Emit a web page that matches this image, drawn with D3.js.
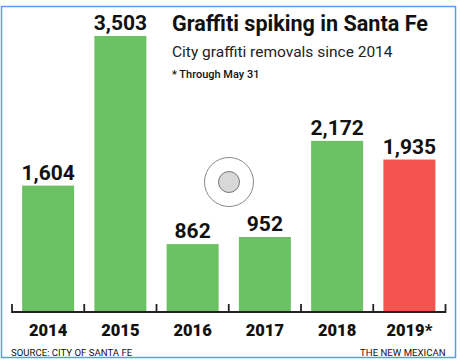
<!DOCTYPE html>
<html><head><meta charset="utf-8">
<script src="https://cdn.jsdelivr.net/npm/d3@7"></script>
<style>body{margin:0;background:#fff}svg{display:block}</style>
</head><body>
<svg id="c" width="460" height="364"></svg>
<script>
const years = ["2014","2015","2016","2017","2018","2019*"];
const values = [1604, 3503, 862, 952, 2172, 1935];
const valueLabels = ["1,604","3,503","862","952","2,172","1,935"];
const barColors = ["#6cc165","#6cc165","#6cc165","#6cc165","#6cc165","#f4544d"];
const title = "Graffiti spiking in Santa Fe";
const subtitle = "City graffiti removals since 2014";
const note = "* Through May 31";
const source = "SOURCE: CITY OF SANTA FE";
const credit = "THE NEW MEXICAN";

const svg = d3.select("#c");
const font = "Roboto, 'Liberation Sans', sans-serif";

// frame
svg.append("rect").attr("x",1.5).attr("y",6.5).attr("width",454).attr("height",351)
  .attr("fill","#fff").attr("stroke","#5b9cf0").attr("stroke-width",1.5);

const x = d3.scaleBand().domain(years).range([12,445.5]).padding(0);
const y = d3.scaleLinear().domain([0,3503]).range([312,36]);
const barW = 52;

const g = svg.append("g");
g.selectAll("rect.bar").data(values).join("rect").attr("class","bar")
  .attr("x",(d,i)=>x(years[i]) + (x.bandwidth()-barW)/2)
  .attr("y",d=>y(d)).attr("width",barW).attr("height",d=>y(0)-y(d))
  .attr("fill",(d,i)=>barColors[i]);

g.selectAll("text.val").data(values).join("text").attr("class","val")
  .attr("x",(d,i)=>x(years[i]) + x.bandwidth()/2)
  .attr("y",d=>y(d)-6).attr("text-anchor","middle")
  .attr("font-family",font).attr("font-weight",700).attr("font-size",21)
  .attr("fill","#111").text((d,i)=>valueLabels[i]);

// axis
const axis = d3.axisBottom(x).tickSize(0).tickFormat("");
const ax = svg.append("g").attr("transform","translate(0,312)").call(axis);
ax.select(".domain").remove();
ax.selectAll(".tick").remove();
const bounds = years.map(yr=>x(yr)).concat([x.range()[1]]);
ax.append("line").attr("x1",12).attr("x2",445.5).attr("y1",0).attr("y2",0)
  .attr("stroke","#222").attr("stroke-width",2);
ax.selectAll("line.tk").data(bounds).join("line").attr("class","tk")
  .attr("x1",d=>d).attr("x2",d=>d).attr("y1",-8).attr("y2",1)
  .attr("stroke","#222").attr("stroke-width",1.8);
ax.selectAll("text.yr").data(years).join("text").attr("class","yr")
  .attr("x",d=>x(d)+x.bandwidth()/2).attr("y",24).attr("text-anchor","middle")
  .attr("font-family",font).attr("font-weight",900).attr("font-size",16.5)
  .attr("fill","#111").text(d=>d);

// titles
svg.append("text").attr("x",172).attr("y",31).attr("font-family",font)
  .attr("font-weight",700).attr("font-size",21.6).attr("fill","#111").text(title);
svg.append("text").attr("x",172).attr("y",57).attr("font-family",font)
  .attr("font-size",15.5).attr("fill","#222").text(subtitle);
svg.append("text").attr("x",172).attr("y",78).attr("font-family",font)
  .attr("font-weight",500).attr("font-size",11).attr("fill","#111").text(note);

// footer
svg.append("text").attr("x",11).attr("y",356).attr("font-family",font)
  .attr("font-size",9.6).attr("fill","#111").text(source);
svg.append("text").attr("x",445.5).attr("y",356).attr("text-anchor","end").attr("font-family",font)
  .attr("font-size",9.6).attr("fill","#111").text(credit);

// circle icon
svg.append("circle").attr("cx",229).attr("cy",182).attr("r",24.5)
  .attr("fill","#fff").attr("stroke","#888").attr("stroke-width",1);
svg.append("circle").attr("cx",229).attr("cy",182).attr("r",10.5)
  .attr("fill","#d8d8d8").attr("stroke","#777").attr("stroke-width",1);
</script>
</body></html>
